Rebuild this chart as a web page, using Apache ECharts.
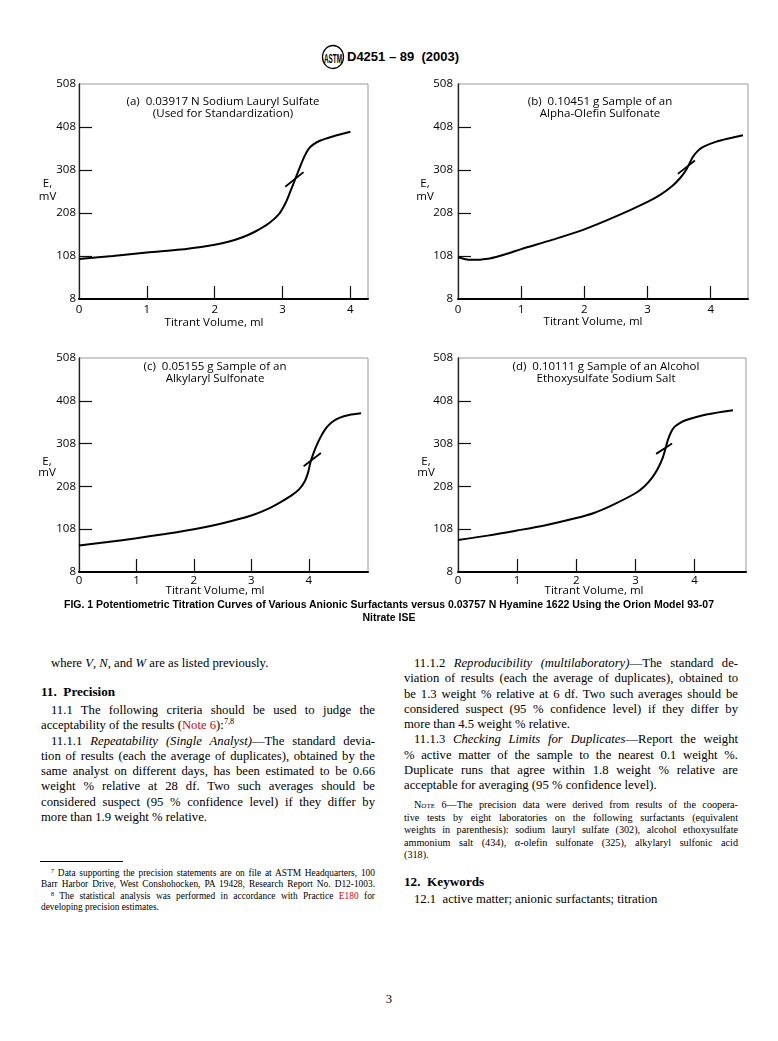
<!DOCTYPE html>
<html>
<head>
<meta charset="utf-8">
<script src="https://cdn.jsdelivr.net/npm/echarts@6/dist/echarts.min.js"></script>
<style>
  body { margin: 0; background: #fff; }
  #page { position: relative; width: 778px; height: 1041px; overflow: hidden; color: #000;
          font-family: "Liberation Serif", "Times New Roman", serif; }
  #fig { position: absolute; left: 0; top: 0; width: 778px; height: 640px; }
  .hdr { position: absolute; left: 347px; top: 49px; font: bold 13px "Liberation Sans", Arial, sans-serif; white-space: pre; }
  .logo { position: absolute; left: 321px; top: 44px; }
  .cap { position: absolute; left: 0; width: 778px; text-align: center;
         font: bold 10.5px "Liberation Sans", Arial, sans-serif; }
  .col { position: absolute; width: 334px; }
  .col div { white-space: nowrap; }
  .body { font-size: 12.7px; line-height: 15.25px; }
  .note { font-size: 10.2px; line-height: 12.5px; }
  .foot { font-size: 9.4px; line-height: 11.3px; }
  .j { text-align: justify; text-align-last: justify; }
  .in { padding-left: 10px; }
  .h { font-weight: bold; font-size: 13.2px; }
  .red { color: #d0021b; }
  sup { font-size: 0.65em; line-height: 0; vertical-align: 0.55em; }
  .sc { font-variant: small-caps; }
  .rule { position: absolute; left: 40px; top: 861px; width: 83px; border-top: 1px solid #000; }
  .pg { position: absolute; left: 0; width: 778px; top: 992px; text-align: center; font-size: 12.7px; }
</style>
</head>
<body>
<div id="page">
  <svg class="logo" width="24" height="26" viewBox="0 0 24 26">
    <ellipse cx="12" cy="13" rx="10.5" ry="11.5" fill="none" stroke="#000" stroke-width="1.3"/>
    <text x="12" y="17" text-anchor="middle" font-family="Liberation Sans" font-weight="bold" font-size="8" transform="translate(12 13) scale(0.8 1.6) translate(-12 -13)">ASTM</text>
  </svg>
  <div class="hdr">D4251 – 89  (2003)</div>

  <div id="fig"></div>

  <div class="cap" style="top:598px;">FIG. 1 Potentiometric Titration Curves of Various Anionic Surfactants versus 0.03757 N Hyamine 1622 Using the Orion Model 93-07</div>
  <div class="cap" style="top:611px;">Nitrate ISE</div>

  <!-- left column -->
  <div class="col body" style="left:41px; top:656px;">
    <div class="in">where <i>V</i>, <i>N</i>, and <i>W</i> are as listed previously.</div>
  </div>
  <div class="col body" style="left:41px; top:684px;">
    <div class="h">11.&nbsp; Precision</div>
  </div>
  <div class="col body" style="left:41px; top:703px;">
    <div class="j in">11.1 The following criteria should be used to judge the</div>
    <div>acceptability of the results (<span class="red">Note 6</span>):<sup>7,8</sup></div>
    <div class="j in">11.1.1 <i>Repeatability (Single Analyst)</i>—The standard devia-</div>
    <div class="j">tion of results (each the average of duplicates), obtained by the</div>
    <div class="j">same analyst on different days, has been estimated to be 0.66</div>
    <div class="j">weight % relative at 28 df. Two such averages should be</div>
    <div class="j">considered suspect (95 % confidence level) if they differ by</div>
    <div>more than 1.9 weight % relative.</div>
  </div>
  <div class="rule"></div>
  <div class="col foot" style="left:41px; top:868px;">
    <div class="j in"><sup>7</sup> Data supporting the precision statements are on file at ASTM Headquarters, 100</div>
    <div class="j">Barr Harbor Drive, West Conshohocken, PA 19428, Research Report No. D12-1003.</div>
    <div class="j in"><sup>8</sup> The statistical analysis was performed in accordance with Practice <span class="red">E180</span> for</div>
    <div>developing precision estimates.</div>
  </div>

  <!-- right column -->
  <div class="col body" style="left:404px; top:656px;">
    <div class="j in">11.1.2 <i>Reproducibility (multilaboratory)</i>—The standard de-</div>
    <div class="j">viation of results (each the average of duplicates), obtained to</div>
    <div class="j">be 1.3 weight % relative at 6 df. Two such averages should be</div>
    <div class="j">considered suspect (95 % confidence level) if they differ by</div>
    <div>more than 4.5 weight % relative.</div>
    <div class="j in">11.1.3 <i>Checking Limits for Duplicates</i>—Report the weight</div>
    <div class="j">% active matter of the sample to the nearest 0.1 weight %.</div>
    <div class="j">Duplicate runs that agree within 1.8 weight % relative are</div>
    <div>acceptable for averaging (95 % confidence level).</div>
  </div>
  <div class="col note" style="left:404px; top:799px;">
    <div class="j in"><span class="sc">Note</span> 6—The precision data were derived from results of the coopera-</div>
    <div class="j">tive tests by eight laboratories on the following surfactants (equivalent</div>
    <div class="j">weights in parenthesis): sodium lauryl sulfate (302), alcohol ethoxysulfate</div>
    <div class="j">ammonium salt (434), α-olefin sulfonate (325), alkylaryl sulfonic acid</div>
    <div>(318).</div>
  </div>
  <div class="col body" style="left:404px; top:874px;">
    <div class="h">12.&nbsp; Keywords</div>
  </div>
  <div class="col body" style="left:404px; top:892px;">
    <div class="in">12.1&nbsp; active matter; anionic surfactants; titration</div>
  </div>

  <div class="pg">3</div>
</div>

<script>
// axis ticks and labels shared by the four panels
const xLabelValues = [0, 1, 2, 3, 4];
const xTickValues = [1, 2, 3, 4];
const yLabelValues = [8, 108, 208, 308, 408, 508];
const yTickValues = [108, 208, 308, 408];

// (a) 0.03917 N sodium lauryl sulfate  [ml, mV]
const curveA = [[0, 101], [0.5, 108], [1.0, 116], [1.5, 123], [1.8, 129], [2.0, 134], [2.2, 141],
  [2.4, 151], [2.6, 165], [2.8, 184], [2.95, 206], [3.05, 233], [3.12, 260], [3.2, 292],
  [3.27, 320], [3.33, 342], [3.38, 356], [3.45, 367], [3.55, 376], [3.74, 386], [4.0, 397]];
const crossA = [[3.04, 269], [3.31, 303]];

// (b) alpha-olefin sulfonate
const curveB = [[0, 105], [0.1, 101], [0.21, 99], [0.35, 99.5], [0.5, 102], [0.75, 112], [1.0, 124],
  [1.5, 146], [2.0, 170], [2.5, 200], [3.0, 234], [3.2, 250], [3.4, 272], [3.52, 290], [3.61, 308],
  [3.67, 325], [3.72, 339], [3.8, 353], [3.88, 362], [4.09, 374], [4.3, 382], [4.51, 389]];
const crossB = [[3.48, 299], [3.75, 330]];

// (c) alkylaryl sulfonate
const curveC = [[0, 70], [0.5, 78], [1.0, 87], [1.5, 97], [2.0, 108], [2.5, 122], [3.0, 140],
  [3.25, 153], [3.48, 169], [3.7, 187], [3.83, 201], [3.93, 220], [3.99, 242], [4.03, 265],
  [4.08, 285], [4.13, 302], [4.2, 322], [4.3, 344], [4.4, 358], [4.53, 368], [4.7, 375], [4.91, 379]];
const crossC = [[3.91, 255], [4.21, 286]];

// (d) alcohol ethoxysulfate sodium salt
const curveD = [[0, 83], [0.5, 93], [1.0, 105], [1.5, 118], [2.0, 134], [2.3, 146], [2.62, 165],
  [3.0, 192], [3.15, 208], [3.28, 228], [3.38, 250], [3.46, 274], [3.51, 297], [3.55, 317],
  [3.6, 334], [3.66, 347], [3.75, 356], [3.86, 363], [4.2, 376], [4.65, 386]];
const crossD = [[3.35, 284], [3.62, 308]];

const xMax = [4.26, 4.59, 5.03, 4.87];
const curves = [curveA, curveB, curveC, curveD];
const crosses = [crossA, crossB, crossC, crossD];
const panelTitles = [
  ['(a)  0.03917 N Sodium Lauryl Sulfate', '(Used for Standardization)'],
  ['(b)  0.10451 g Sample of an', 'Alpha-Olefin Sulfonate'],
  ['(c)  0.05155 g Sample of an', 'Alkylaryl Sulfonate'],
  ['(d)  0.10111 g Sample of an Alcohol', 'Ethoxysulfate Sodium Salt']
];
const xName = 'Titrant Volume, ml';
const yName = ['E,', 'mV'];

// panel layout (pixels)
const grids = [
  { left: 79, top: 84, width: 289, height: 215 },
  { left: 458, top: 84, width: 290, height: 215 },
  { left: 79, top: 358, width: 289, height: 214 },
  { left: 458, top: 358, width: 288, height: 214 }
];
const titlePos = [[223, 102, 114], [600, 102, 114], [215, 367, 379], [606, 367, 378.5]];
const xNamePos = [[214, 323], [593, 322], [215, 591], [594, 591]];
const yNamePos = [[47.5, 183.5, 196.5], [425, 183.5, 196.5], [47, 462, 473], [426, 462, 473]];
const yLabelMargin = [3, 5, 3, 5];
const xLabelMargin = [5, 5, 3, 3];

const chartFont = '"Open Sans", "Noto Sans", sans-serif';

const chart = echarts.init(document.getElementById('fig'), null, { renderer: 'canvas' });

const option = {
  animation: false,
  grid: grids.map(g => ({ ...g, show: true, borderColor: '#9a9a9a', borderWidth: 1, containLabel: false })),
  xAxis: grids.map((g, i) => ({
    type: 'value', gridIndex: i, min: 0, max: xMax[i],
    axisLine: { show: true, onZero: false, lineStyle: { color: '#000', width: 2 } },
    axisTick: { show: true, inside: true, length: 13, customValues: xTickValues,
      lineStyle: { color: '#111', width: 1.2 } },
    axisLabel: { show: true, customValues: xLabelValues, margin: xLabelMargin[i], color: '#000',
      fontSize: 11.5, fontFamily: chartFont },
    splitLine: { show: false }
  })),
  yAxis: grids.map((g, i) => ({
    type: 'value', gridIndex: i, min: 8, max: 508,
    axisLine: { show: true, onZero: false, lineStyle: { color: '#222', width: 1.3 } },
    axisTick: { show: true, inside: true, length: 13, customValues: yTickValues,
      lineStyle: { color: '#111', width: 1.2 } },
    axisLabel: { show: true, customValues: yLabelValues, margin: yLabelMargin[i], color: '#000',
      fontSize: 11.5, fontFamily: chartFont },
    splitLine: { show: false }
  })),
  series: [
    ...curves.map((data, i) => ({
      type: 'line', xAxisIndex: i, yAxisIndex: i, data: data,
      showSymbol: false, smooth: 0.3, silent: true,
      lineStyle: { color: '#000', width: 2 }
    })),
    ...crosses.map((data, i) => ({
      type: 'line', xAxisIndex: i, yAxisIndex: i, data: data,
      showSymbol: false, smooth: false, silent: true,
      lineStyle: { color: '#000', width: 1.8 }
    }))
  ],
  graphic: []
};

const textEl = (text, x, y) => ({
  type: 'text', x: x, y: y, silent: true,
  style: { text: text, fill: '#000', font: '11.5px ' + chartFont,
    align: 'center', verticalAlign: 'middle', textAlign: 'center', textVerticalAlign: 'middle' }
});

panelTitles.forEach((lines, i) => {
  option.graphic.push(textEl(lines[0], titlePos[i][0], titlePos[i][1]));
  option.graphic.push(textEl(lines[1], titlePos[i][0], titlePos[i][2]));
  option.graphic.push(textEl(xName, xNamePos[i][0], xNamePos[i][1]));
  option.graphic.push(textEl(yName[0], yNamePos[i][0], yNamePos[i][1]));
  option.graphic.push(textEl(yName[1], yNamePos[i][0], yNamePos[i][2]));
});

chart.setOption(option);
</script>
</body>
</html>
